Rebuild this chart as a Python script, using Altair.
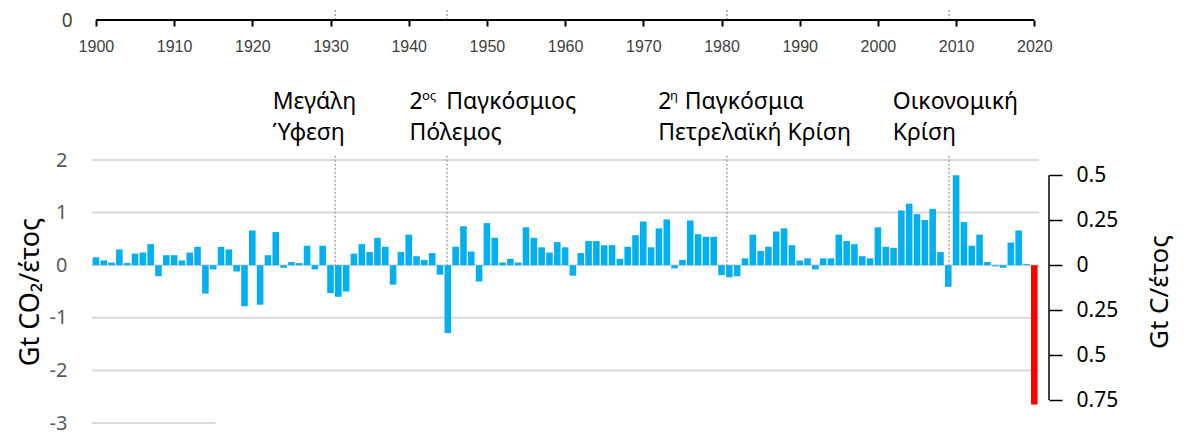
import altair as alt
import pandas as pd

# ---------------- data ----------------
years = list(range(1900, 2021))
changes = [
    0.15, 0.09, 0.05, 0.30, 0.04, 0.22, 0.24, 0.40, -0.21, 0.19,   # 1900-1909
    0.19, 0.09, 0.24, 0.35, -0.54, -0.08, 0.35, 0.30, -0.12, -0.78, # 1910-1919
    0.66, -0.75, 0.19, 0.63, -0.05, 0.06, 0.04, 0.37, -0.08, 0.37,  # 1920-1929
    -0.53, -0.60, -0.50, 0.22, 0.40, 0.25, 0.52, 0.35, -0.37, 0.25, # 1930-1939
    0.58, 0.17, 0.10, 0.23, -0.18, -1.29, 0.35, 0.74, 0.26, -0.31,  # 1940-1949
    0.80, 0.52, 0.05, 0.12, 0.05, 0.72, 0.52, 0.34, 0.24, 0.44,     # 1950-1959
    0.34, -0.20, 0.23, 0.46, 0.46, 0.38, 0.38, 0.12, 0.35, 0.57,    # 1960-1969
    0.83, 0.34, 0.70, 0.87, -0.06, 0.10, 0.85, 0.59, 0.54, 0.54,    # 1970-1979
    -0.19, -0.23, -0.21, 0.13, 0.58, 0.27, 0.35, 0.64, 0.70, 0.38,  # 1980-1989
    0.09, 0.13, -0.08, 0.13, 0.13, 0.58, 0.46, 0.40, 0.17, 0.13,    # 1990-1999
    0.72, 0.35, 0.33, 1.04, 1.17, 0.97, 0.86, 1.07, 0.25, -0.41,    # 2000-2009
    1.71, 0.82, 0.37, 0.58, 0.06, -0.02, -0.05, 0.43, 0.66, 0.02,   # 2010-2019
    -2.65,                                                          # 2020
]
kind = ["past"] * 120 + ["2020"]

event_years = [1930.6, 1944.9, 1980.7, 2009.1]
decades = list(range(1900, 2021, 10))

# annotation texts (line 1, line 2, superscripts)
line1_x = [1922.6, 1940.1, 1944.8, 1971.9, 1975.3, 2001.9]
line1_text = ["Μεγάλη", "2", "Παγκόσμιος", "2", "Παγκόσμια", "Οικονομική"]
sup_x = [1941.7, 1973.4]
sup_text = ["ος", "η"]
line2_x = [1922.6, 1940.1, 1971.9, 2001.9]
line2_text = ["Ύφεση", "Πόλεμος", "Πετρελαϊκή Κρίση", "Κρίση"]

left_ticks = [2, 1, 0, -1, -2, -3]
right_ticks = [0.5, 0.25, 0, -0.25, -0.5, -0.75]
CO2_PER_C = 3.42

# ---------------- styling constants ----------------
XDOM = [1899.5, 2020.6]
YDOM = [-3, 2]
W = 947
H = 263
FONT = "Noto Sans"
BLUE = "#00b0f0"
RED = "#ff0000"
GRID = "#d9d9d9"
DASH = "#a6a6a6"

df = pd.DataFrame({"year": years, "change": changes, "kind": kind})
df["x0"] = df["year"] - 0.42
df["x1"] = df["year"] + 0.42

xs = alt.Scale(domain=XDOM, nice=False, zero=False)
ys = alt.Scale(domain=YDOM, nice=False, zero=False)

HYPHEN_LABEL = "datum.value < 0 ? '-' + abs(datum.value) : '' + datum.value"

# ---------- top strip (axis of upper panel) ----------
top_events = pd.DataFrame({"x": event_years, "y0": [0] * 4, "y1": [1] * 4})
top_line = pd.DataFrame({"x": [decades[0]], "x2": [decades[-1]], "y": [0]})

tys = alt.Scale(domain=[0, 1], nice=False, zero=False)

top_xaxis = alt.Axis(
    values=decades, format="d", domain=False, grid=False,
    ticks=True, tickColor="black", tickWidth=2, tickSize=6,
    labelFont="Liberation Sans", labelFontSize=16, labelColor="#404040",
    labelPadding=12, title=None)
top_yaxis = alt.Axis(
    values=[0], domain=False, ticks=False, grid=False,
    labelFont=FONT, labelFontSize=19, labelColor="#404040",
    labelPadding=20, title=None)

top_dash = alt.Chart(top_events).mark_rule(
    color=DASH, strokeDash=[2, 2], strokeWidth=1.5
).encode(
    x=alt.X("x:Q", scale=xs, axis=top_xaxis),
    y=alt.Y("y0:Q", scale=tys, axis=top_yaxis),
    y2="y1:Q",
)
top_axisline = alt.Chart(top_line).mark_rule(color="black", strokeWidth=2).encode(
    x=alt.X("x:Q", scale=xs, axis=top_xaxis),
    x2="x2:Q",
    y=alt.Y("y:Q", scale=tys, axis=top_yaxis),
)
top = alt.layer(top_dash, top_axisline).properties(width=W, height=11)

# ---------- bottom panel ----------
left_yaxis = alt.Axis(
    values=left_ticks, domain=False, ticks=False, grid=False,
    labelExpr=HYPHEN_LABEL,
    labelFont=FONT, labelFontSize=20, labelColor="#595959",
    labelPadding=25, title="Gt CO₂/έτος", titleFont=FONT,
    titleFontSize=27, titleFontWeight="normal", titleColor="black",
    titlePadding=5)

grid_df = pd.DataFrame({
    "y": [2, 1, 0, -1, -2, -3],
    "x": [XDOM[0]] * 6,
    "x2": [XDOM[1]] * 5 + [1915.3],
})
grid = alt.Chart(grid_df).mark_rule(color=GRID, strokeWidth=2).encode(
    x=alt.X("x:Q", scale=xs, axis=None),
    x2="x2:Q",
    y=alt.Y("y:Q", scale=ys, axis=left_yaxis),
)

ev_df = pd.DataFrame({"x": event_years, "y0": [2.08] * 4, "y1": [0] * 4})
dashes = alt.Chart(ev_df).mark_rule(
    color=DASH, strokeDash=[2, 2], strokeWidth=1.5
).encode(
    x=alt.X("x:Q", scale=xs, axis=None),
    y=alt.Y("y0:Q", scale=ys, axis=left_yaxis),
    y2="y1:Q",
)

bars = alt.Chart(df).mark_rect().encode(
    x=alt.X("x0:Q", scale=xs, axis=None),
    x2="x1:Q",
    y=alt.Y("change:Q", scale=ys, axis=left_yaxis),
    y2=alt.Y2(datum=0),
    color=alt.Color("kind:N", scale=alt.Scale(domain=["past", "2020"], range=[BLUE, RED]), legend=None),
)

l1 = pd.DataFrame({"x": line1_x, "text": line1_text, "y": [3.11] * len(line1_x)})
l2 = pd.DataFrame({"x": line2_x, "text": line2_text, "y": [2.52] * len(line2_x)})
sp = pd.DataFrame({"x": sup_x, "text": sup_text, "y": [3.21] * len(sup_x)})

def text_layer(d, size):
    return alt.Chart(d).mark_text(
        align="left", baseline="middle", font=FONT, fontSize=size, color="black"
    ).encode(
        x=alt.X("x:Q", scale=xs, axis=None),
        y=alt.Y("y:Q", scale=ys, axis=left_yaxis),
        text="text:N",
    )

left_layers = alt.layer(grid, dashes, bars, text_layer(l1, 23), text_layer(l2, 23), text_layer(sp, 13))

rdom = [YDOM[0] / CO2_PER_C, YDOM[1] / CO2_PER_C]
rline = pd.DataFrame({"c0": [right_ticks[0]], "c1": [right_ticks[-1]]})
right = alt.Chart(rline).mark_rule(color="black", strokeWidth=1.5).encode(
    x=alt.value(W + 10),
    y=alt.Y("c0:Q", scale=alt.Scale(domain=rdom, nice=False, zero=False), axis=alt.Axis(
        orient="right", offset=10, values=right_ticks, domain=False, grid=False,
        ticks=True, tickColor="black", tickWidth=1.5, tickSize=13,
        labelExpr="format(abs(datum.value), '')",
        labelFont=FONT, labelFontSize=21, labelColor="black", labelPadding=14,
        title="Gt C/έτος", titleFont=FONT, titleFontSize=26,
        titleFontWeight="normal", titleColor="black", titleAngle=270,
        titlePadding=55)),
    y2="c1:Q",
)

bottom = alt.layer(left_layers, right).resolve_scale(y="independent").properties(width=W, height=H)

chart = alt.vconcat(top, bottom, spacing=36).properties(
    padding={"left": 8, "top": 0, "right": 2, "bottom": 5}
).configure_view(stroke=None)

chart.save("out.html", embed_options={"renderer": "svg", "actions": False})
